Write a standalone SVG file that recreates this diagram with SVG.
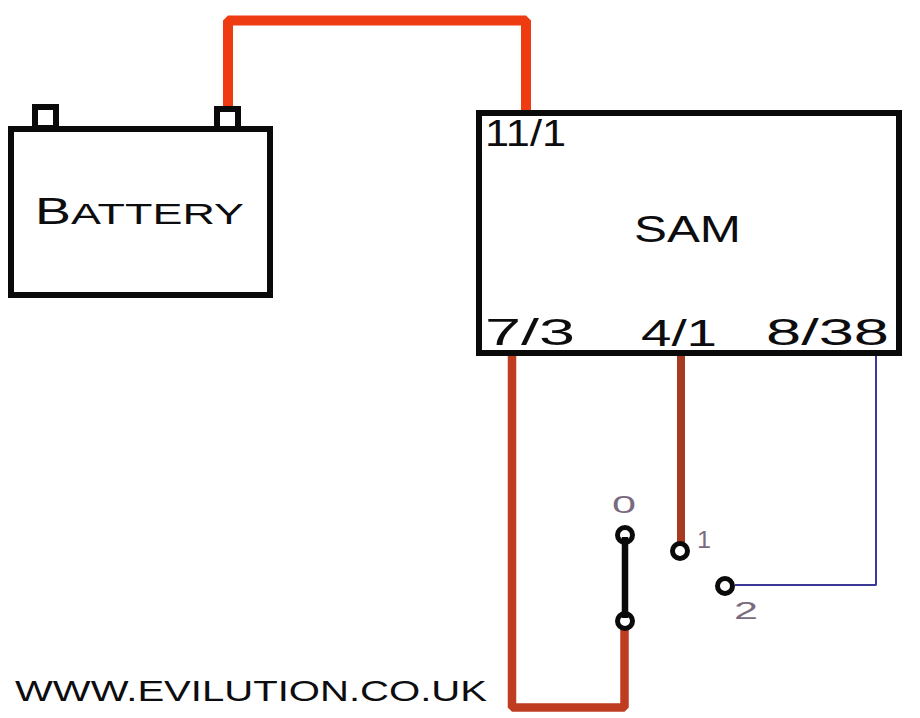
<svg xmlns="http://www.w3.org/2000/svg" width="920" height="718" viewBox="0 0 920 718">
<style>
.box{fill:#fff;stroke:#0a0a0a;stroke-width:6}
.lbl{font-family:"Liberation Sans",Arial,sans-serif;fill:#0d0d10;font-size:36px}
.sm{font-family:"Liberation Sans",Arial,sans-serif;font-size:23px;fill:#7a6a80}
.wire{fill:none;stroke-linejoin:bevel}
.pin{fill:#fff;stroke:#0a0a0a;stroke-width:5}
</style>
<rect width="920" height="718" fill="#fff"/>
<g id="connectors">
<path class="wire" d="M228 106V20.500H526V110" stroke="#ee3b12" stroke-width="10"/>
<path class="wire" d="M512 356V707.500H624.500V625" stroke="#bf3c20" stroke-width="8.500"/>
<path class="wire" d="M681 356V546" stroke="#a93a22" stroke-width="8"/>
<path class="wire" d="M876 356V585H735" stroke="#3a3a96" stroke-width="2"/>
</g>
<g id="battery">
<rect class="box" x="35" y="107" width="21" height="21"/>
<rect class="box" x="217" y="109" width="21" height="21"/>
<rect class="box" x="11" y="129" width="259" height="166"/>
<text class="lbl" x="35" y="224" textLength="209" lengthAdjust="spacingAndGlyphs">B<tspan font-size="30" style="font-size:30px">ATTERY</tspan></text>
</g>
<g id="sam">
<rect class="box" x="479" y="113" width="420" height="240"/>
<text class="lbl" x="634" y="242" textLength="107" lengthAdjust="spacingAndGlyphs">SAM</text>
<text class="lbl" x="485" y="146" textLength="81" lengthAdjust="spacingAndGlyphs">11/1</text>
<text class="lbl" x="485" y="345" textLength="90" lengthAdjust="spacingAndGlyphs">7/3</text>
<text class="lbl" x="641" y="346" textLength="76" lengthAdjust="spacingAndGlyphs">4/1</text>
<text class="lbl" x="766" y="345" textLength="123" lengthAdjust="spacingAndGlyphs">8/38</text>
</g>
<g id="switch">
<circle class="pin" cx="625" cy="535" r="7.500"/>
<circle class="pin" cx="625" cy="621" r="7.500"/>
<path d="M625 537V618" stroke="#0a0a0a" stroke-width="6.500"/>
<circle class="pin" cx="680" cy="551" r="7.500"/>
<circle class="pin" cx="725" cy="586" r="7.500"/>
<text class="sm" x="612" y="513" textLength="24" lengthAdjust="spacingAndGlyphs">0</text>
<text class="sm" x="697" y="548" textLength="14" lengthAdjust="spacingAndGlyphs">1</text>
<text class="sm" x="734" y="619" textLength="24" lengthAdjust="spacingAndGlyphs">2</text>
</g>
<g id="website">
<text class="lbl" x="15" y="701" style="font-size:30px" textLength="472" lengthAdjust="spacingAndGlyphs">WWW.EVILUTION.CO.UK</text>
</g>
</svg>
